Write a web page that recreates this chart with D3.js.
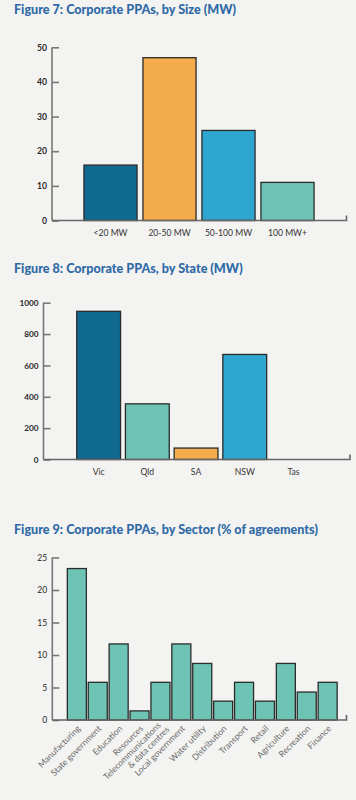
<!DOCTYPE html>
<html><head><meta charset="utf-8">
<script src="https://cdn.jsdelivr.net/npm/d3@7"></script>
<style>
html,body{margin:0;padding:0;background:#f3f3f1;}
svg{display:block;}
</style></head>
<body>
<svg id="chart" width="356" height="800"></svg>
<script>
// ---- Data ----
const sizeCategories = ["<20 MW", "20-50 MW", "50-100 MW", "100 MW+"];
const sizeValues = [16, 47, 26, 11];
const sizeTicks = [0, 10, 20, 30, 40, 50];

const stateCategories = ["Vic", "Qld", "SA", "NSW", "Tas"];
const stateValues = [945, 355, 73, 670, 0];
const stateTicks = [0, 200, 400, 600, 800, 1000];

const sectorCategories = ["Manufacturing", "State government", "Education", "Resources",
  "Telecommunications\n& data centres", "Local government", "Water utility", "Distribution",
  "Transport", "Retail", "Agriculture", "Recreation", "Finance"];
const sectorValues = [23.3, 5.8, 11.7, 1.4, 5.8, 11.7, 8.7, 2.9, 5.8, 2.9, 8.7, 4.3, 5.8];
const sectorTicks = [0, 5, 10, 15, 20, 25];

const titles = ["Figure 7: Corporate PPAs, by Size (MW)",
  "Figure 8: Corporate PPAs, by State (MW)",
  "Figure 9: Corporate PPAs, by Sector (% of agreements)"];

const C = {dark:"#106a8f", orange:"#f5ac4d", light:"#2fa6d0", teal:"#6dc4b5"};
const sizeColors = [C.dark, C.orange, C.light, C.teal];
const stateColors = [C.dark, C.teal, C.orange, C.light, C.light];

const svg = d3.select("#chart");
const FONT = "Lato, 'Open Sans', sans-serif";
const titleColor = "#2f6aa6";

function drawChart(cfg) {
  const g = svg.append("g");
  g.append("text").attr("x", 14).attr("y", cfg.titleY)
    .attr("font-family", FONT).attr("font-weight", 900).attr("font-size", 12.6)
    .attr("fill", titleColor).text(cfg.title);

  const y = d3.scaleLinear().domain([0, cfg.max]).range([cfg.y0, cfg.y1]);
  const x = d3.scaleBand().domain(cfg.cats).range(cfg.xRange)
    .paddingInner(cfg.pi).paddingOuter(cfg.po);

  // bars
  g.selectAll("rect.bar").data(cfg.values).join("rect")
    .attr("x", (d, i) => x(cfg.cats[i]))
    .attr("y", d => y(d))
    .attr("width", x.bandwidth())
    .attr("height", d => y(0) - y(d))
    .attr("fill", (d, i) => cfg.colors[i])
    .attr("stroke", "#2b2b2b").attr("stroke-width", 1.3);

  // y axis
  const ya = d3.axisLeft(y).tickValues(cfg.ticks).tickFormat(d3.format("d")).tickSize(-7).tickPadding(12);
  const yg = g.append("g").attr("transform", `translate(${cfg.axisX},0)`).call(ya);
  yg.select(".domain").attr("stroke", "#777").attr("stroke-width", 1.6)
    .attr("d", `M0,${cfg.y1}V${cfg.y0}`);
  yg.selectAll(".tick line").attr("stroke", "#777").attr("stroke-width", 1.6);
  yg.selectAll(".tick text").attr("font-family", FONT)
    .attr("font-size", cfg.tickFont).attr("font-weight", cfg.tickWeight)
    .attr("fill", "#2a2a2a").attr("x", -5);

  // baseline with end tick
  g.append("path")
    .attr("d", `M${cfg.axisX},${y(0)}H${cfg.baseEnd}V${y(0) - 5}`)
    .attr("fill", "none").attr("stroke", "#666").attr("stroke-width", 1.6);

  // x labels
  if (!cfg.rotate) {
    g.selectAll("text.xl").data(cfg.cats).join("text")
      .attr("x", d => x(d) + x.bandwidth() / 2)
      .attr("y", y(0) + 15)
      .attr("text-anchor", "middle")
      .attr("font-family", FONT).attr("font-size", 8.6).attr("fill", "#333")
      .text(d => d);
  } else {
    const lg = g.selectAll("g.xl").data(cfg.cats).join("g")
      .attr("transform", d => `translate(${x(d) + x.bandwidth() / 2 + 2},${y(0) + 7}) rotate(-45)`);
    lg.each(function(d) {
      const lines = d.split("\n");
      const t = d3.select(this).append("text")
        .attr("text-anchor", "end").attr("font-family", FONT)
        .attr("font-size", 8.6).attr("fill", "#6a6a6a");
      lines.forEach((ln, k) => {
        t.append("tspan").attr("x", k === 0 ? 0 : 3).attr("y", (k - (lines.length - 1)) * 9 + 3 + (lines.length - 1) * 4.5).text(ln);
      });
    });
  }
}

drawChart({title: titles[0], titleY: 14, cats: sizeCategories, values: sizeValues, colors: sizeColors,
  ticks: sizeTicks, max: 50, y0: 220.5, y1: 47.3, axisX: 52, xRange: [81, 317], pi: 0.1, po: 0.05,
  baseEnd: 346.5, tickFont: 8.6, tickWeight: 700});

drawChart({title: titles[1], titleY: 273, cats: stateCategories, values: stateValues, colors: stateColors,
  ticks: stateTicks, max: 1000, y0: 459.5, y1: 302.7, axisX: 43.5, xRange: [74.3, 317.8], pi: 0.1, po: 0.05,
  baseEnd: 350, tickFont: 8.2, tickWeight: 700});

drawChart({title: titles[2], titleY: 534, cats: sectorCategories, values: sectorValues, colors: sectorCategories.map(() => C.teal),
  ticks: sectorTicks, max: 25, y0: 720, y1: 557.5, axisX: 52.3, xRange: [66.4, 338.1], pi: 0.09, po: 0.045,
  baseEnd: 346.5, tickFont: 8.6, tickWeight: 400, rotate: true});
</script>
</body></html>
